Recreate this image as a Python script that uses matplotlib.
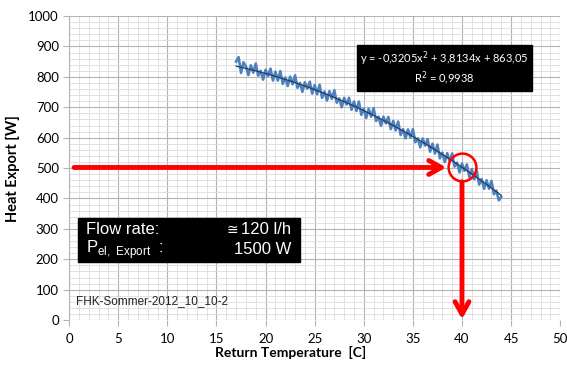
import numpy as np
import matplotlib
matplotlib.use('Agg')
import matplotlib.pyplot as plt
from matplotlib.ticker import MultipleLocator

temp = np.arange(17.0, 44.01, 0.25)
heat = [850, 865, 813, 848, 834, 806, 838, 814,
        844, 804, 820, 791, 823, 803, 827, 788,
        817, 788, 819, 777, 798, 770, 801, 776,
        805, 764, 780, 751, 782, 761, 784, 745,
        773, 743, 774, 731, 752, 722, 753, 728,
        756, 715, 729, 700, 731, 709, 731, 692,
        719, 688, 719, 675, 695, 665, 695, 669,
        697, 655, 669, 639, 669, 647, 668, 628,
        655, 624, 653, 609, 628, 598, 627, 601,
        628, 585, 598, 568, 597, 574, 595, 554,
        580, 548, 577, 532, 551, 520, 549, 522,
        548, 505, 518, 486, 515, 491, 512, 470,
        496, 463, 491, 446, 464, 432, 460, 432,
        458, 414, 426, 394, 405]

# polynomial trendline as printed on the chart
fit_coef = [-0.3205, 3.8134, 863.05]
fit_label = 'y = -0,3205x$^2$ + 3,8134x + 863,05\nR$^2$ = 0,9938'

# reading of the operating point
op_temp = 40
op_heat = 502

plt.rcParams['font.family'] = ['Lato', 'DejaVu Sans']

fig = plt.figure(figsize=(5.67, 3.65), dpi=100)
ax = fig.add_axes([0.122, 0.123, 0.866, 0.833])

ax.set_xlim(0, 50)
ax.set_ylim(0, 1000)
ax.xaxis.set_major_locator(MultipleLocator(5))
ax.xaxis.set_minor_locator(MultipleLocator(1))
ax.yaxis.set_major_locator(MultipleLocator(100))
ax.yaxis.set_minor_locator(MultipleLocator(20))
ax.grid(which='major', color='#b4b4b4', lw=0.8)
ax.grid(which='minor', color='#dcdcdc', lw=0.6)
ax.set_axisbelow(True)
for s in ['top', 'right', 'bottom']:
    ax.spines[s].set_visible(False)
ax.spines['left'].set_color('#b4b4b4')
ax.tick_params(which='major', length=4, color='#b4b4b4', labelsize=9.5)
ax.tick_params(which='minor', length=0)
ax.tick_params(axis='x', pad=5)

ax.plot(temp, heat, color='#4f81bd', lw=1.9, zorder=3)
xf = np.linspace(temp[0], temp[-1], 200)
ax.plot(xf, np.polyval(fit_coef, xf), color='#1f3b66', lw=0.9, zorder=4)

# reading arrows
arrow = dict(arrowstyle='->,head_length=0.9,head_width=0.5', color='red', lw=3.5,
             shrinkA=0, shrinkB=0)
ax.annotate('', xy=(38.4, op_heat), xytext=(0.5, op_heat), arrowprops=arrow, zorder=5)
ax.plot(op_temp, op_heat, 'o', ms=20, mfc='none', mec='red', mew=1.8, zorder=6)
ax.annotate('', xy=(op_temp, 3), xytext=(op_temp, op_heat - 47), arrowprops=arrow, zorder=5)

ax.text(0.764, 0.829, fit_label, transform=ax.transAxes, ha='center', va='center',
        fontsize=8, color='white', linespacing=1.15,
        bbox=dict(boxstyle='square,pad=0.3', fc='black', ec='black'), zorder=7)

# info box
ax.add_patch(plt.Rectangle((0.017, 0.19), 0.453, 0.147, transform=ax.transAxes,
                           fc='black', ec='black', zorder=7))
bf = ['Liberation Sans', 'DejaVu Sans']
ax.text(0.035, 0.297, 'Flow rate:', transform=ax.transAxes, color='white', fontsize=12,
        family=bf, va='center', zorder=8)
ax.text(0.035, 0.232, 'P$_{\\mathregular{el,\\ Export}}$  :', transform=ax.transAxes, color='white',
        fontsize=12, family=bf, va='center', zorder=8)
ax.text(0.345, 0.297, '≅', transform=ax.transAxes, color='white', fontsize=10,
        family=['DejaVu Sans'], ha='right', va='center', zorder=8)
ax.text(0.452, 0.297, '120 l/h', transform=ax.transAxes, color='white', fontsize=12,
        family=bf, ha='right', va='center', zorder=8)
ax.text(0.452, 0.232, '1500 W', transform=ax.transAxes, color='white', fontsize=12,
        family=bf, ha='right', va='center', zorder=8)

ax.text(0.014, 0.063, 'FHK-Sommer-2012_10_10-2', transform=ax.transAxes, fontsize=8.5,
        family=bf, color='#222222', va='center')

ax.set_xlabel('Return Temperature  [C]', fontsize=10, fontweight='bold', labelpad=1, x=0.45)
ax.set_ylabel('Heat Export [W]', fontsize=10.5, fontweight='bold', labelpad=6)

fig.savefig('out.png', dpi=100)
